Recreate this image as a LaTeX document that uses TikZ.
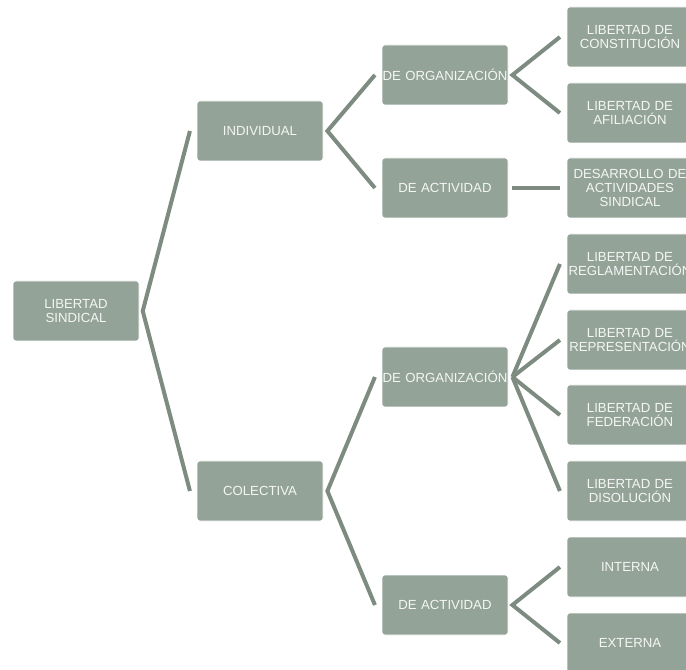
\documentclass[tikz,border=0pt]{standalone}
\usepackage{fontspec}
\setmainfont{Liberation Sans}
\usepackage{tikz}
\definecolor{boxfill}{HTML}{93A398}
\definecolor{linkcol}{HTML}{7D8B81}
\definecolor{boxtext}{HTML}{F4F6F4}

\begin{document}
\begin{tikzpicture}[x=0.75pt,y=-0.75pt,
    item/.style={rectangle,rounded corners=2pt,fill=boxfill,draw=white,line width=0.6pt,
      text=boxtext,minimum width=94.5pt,minimum height=45pt,text width=94.5pt,
      inner xsep=0pt,inner ysep=2pt,align=center,
      font=\fontsize{9.9}{10.7}\selectfont},
    link/.style={draw=linkcol,line width=3pt}]
      \useasboundingbox (0,0) rectangle (686,670);

      \node[item] (root) at (76,311) {LIBERTAD\\SINDICAL};

      \node[item] (ind) at (260,131) {INDIVIDUAL};
      \node[item] (col) at (260,491) {COLECTIVA};

      \node[item] (orgA) at (445,75) {DE ORGANIZACIÓN};
      \node[item] (actA) at (445,188) {DE ACTIVIDAD};
      \node[item] (orgB) at (445,377) {DE ORGANIZACIÓN};
      \node[item] (actB) at (445,605) {DE ACTIVIDAD};

      \node[item] (constit) at (630,37) {LIBERTAD DE\\CONSTITUCIÓN};
      \node[item] (afil) at (630,113) {LIBERTAD DE\\AFILIACIÓN};
      \node[item] (desar) at (630,188) {DESARROLLO DE\\ACTIVIDADES\\SINDICAL};
      \node[item] (regl) at (630,264) {LIBERTAD DE\\REGLAMENTACIÓN};
      \node[item] (repr) at (630,340) {LIBERTAD DE\\REPRESENTACIÓN};
      \node[item] (fede) at (630,415) {LIBERTAD DE\\FEDERACIÓN};
      \node[item] (diso) at (630,491) {LIBERTAD DE\\DISOLUCIÓN};
      \node[item] (inter) at (630,567) {INTERNA};
      \node[item] (exter) at (630,643) {EXTERNA};

      % branches
      \draw[link] ([xshift=-5]ind.west) -- ([xshift=2.5]root.east) -- ([xshift=-5]col.west);
      \draw[link] ([xshift=-5]orgA.west) -- ([xshift=3]ind.east) -- ([xshift=-5]actA.west);
      \draw[link] ([xshift=-5]orgB.west) -- ([xshift=3]col.east) -- ([xshift=-5]actB.west);
      \draw[link] ([xshift=-5]constit.west) -- ([xshift=3]orgA.east) -- ([xshift=-5]afil.west);
      \draw[link] ([xshift=3]actA.east) -- ([xshift=-5]desar.west);
      \draw[link] ([xshift=3]orgB.east) -- ([xshift=-5]regl.west);
      \draw[link] ([xshift=3]orgB.east) -- ([xshift=-5]repr.west);
      \draw[link] ([xshift=3]orgB.east) -- ([xshift=-5]fede.west);
      \draw[link] ([xshift=3]orgB.east) -- ([xshift=-5]diso.west);
      \draw[link] ([xshift=-5]inter.west) -- ([xshift=3]actB.east) -- ([xshift=-5]exter.west);
\end{tikzpicture}
\end{document}
